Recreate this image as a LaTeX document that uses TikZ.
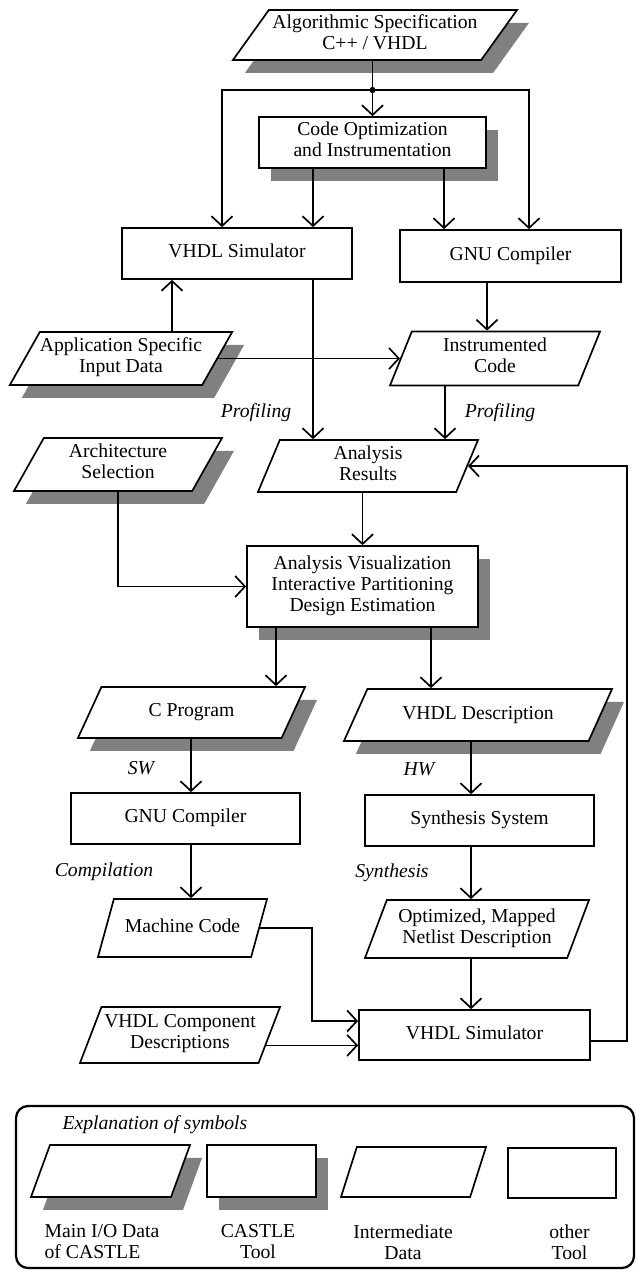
\documentclass[tikz,border=0pt]{standalone}
\usepackage{fontspec}
\setmainfont{Liberation Serif}
\usetikzlibrary{positioning,arrows.meta,calc,shapes.geometric,shadows}

\begin{document}
\begin{tikzpicture}[x=0.025cm,y=-0.025cm,line width=1.2pt,
 >={Straight Barb[length=7pt,width=15pt]},
 blk/.style={draw,fill=white,align=center,inner sep=0pt,font=\fontsize{14}{15}\selectfont,
   execute at begin node=\strut,execute at end node=\strut},
 shade/.style={drop shadow={shadow xshift=.3cm,shadow yshift=-.32cm,fill=black!50,opacity=1}},
 tool/.style={blk,rectangle,shade},
 other/.style={blk,rectangle},
 io/.style={blk,trapezium,trapezium left angle=54,trapezium right angle=126,trapezium stretches body,shade},
 ioone/.style={trapezium left angle=42,trapezium right angle=138},
 mid/.style={blk,trapezium,trapezium left angle=62,trapezium right angle=118,trapezium stretches body},
 midone/.style={trapezium left angle=53,trapezium right angle=127},
 lab/.style={font=\fontsize{14}{15}\selectfont\itshape},
 keytxt/.style={align=center,font=\fontsize{14}{15}\selectfont}]
\useasboundingbox (0,0) rectangle (637,1276);

% tools and data
\node[io,trapezium left angle=49,trapezium right angle=131,minimum width=7.1cm,minimum height=1.25cm] (spec) at (375,35) {Algorithmic Specification\\C++ / VHDL};
\node[tool,minimum width=5.675cm,minimum height=1.275cm] (opt) at (372.5,142.5) {Code Optimization\\and Instrumentation};
\node[other,minimum width=5.75cm,minimum height=1.275cm] (vsim) at (237,253.5) {VHDL Simulator};
\node[other,minimum width=5.525cm,minimum height=1.3cm] (gcc) at (510.5,256) {GNU Compiler};
\node[io,minimum width=5.2cm,minimum height=1.325cm] (app) at (121,358.5) {Application Specific\\Input Data};
\node[mid,minimum width=5.25cm,minimum height=1.35cm] (instr) at (495,358.5) {Instrumented\\Code};
\node[io,minimum width=5.2cm,minimum height=1.325cm] (arch) at (118,464.5) {Architecture\\Selection};
\node[mid,minimum width=5.5cm,minimum height=1.3cm] (res) at (368,466) {Analysis\\Results};
\node[tool,minimum width=5.775cm,minimum height=2.025cm] (av) at (362.5,586.5) {Analysis Visualization\\Interactive Partitioning\\Design Estimation};
\node[io,ioone,minimum width=5.675cm,minimum height=1.275cm] (cprog) at (191.5,712.5) {C Program};
\node[io,ioone,minimum width=6.7cm,minimum height=1.3cm] (vdesc) at (478,715) {VHDL Description};
\node[other,minimum width=5.725cm,minimum height=1.275cm] (gcc2) at (185.5,818.5) {GNU Compiler};
\node[other,minimum width=5.725cm,minimum height=1.275cm] (synth) at (479.5,820.5) {Synthesis System};
\node[mid,midone,minimum width=4.225cm,minimum height=1.45cm] (mcode) at (182.5,928) {Machine Code};
\node[mid,minimum width=5.6cm,minimum height=1.45cm] (net) at (477,929) {Optimized, Mapped\\Netlist Description};
\node[other,minimum width=5.775cm,minimum height=1.25cm] (vsim2) at (474.5,1035) {VHDL Simulator};
\node[mid,minimum width=5cm,minimum height=1.4cm] (comp) at (180,1035) {VHDL Component\\Descriptions};

% branch from the specification
\coordinate (split) at (opt.north |- 0,90);
\draw[->] (spec.south -| opt.north) -- (opt.north);
\fill (split) circle (2.2pt);
\draw[->] (split) -| ($(vsim.north)+(-15,0)$);
\draw[->] (split) -| ($(gcc.north)+(18.5,0)$);
\draw[->] ($(opt.south)+(-59.5,0)$) -- ($(vsim.north)+(76,0)$);
\draw[->] ($(opt.south)+(71.5,0)$) -- ($(gcc.north)+(-66.5,0)$);

% profiling
\coordinate (p1) at ($(vsim.south)+(76,0)$);
\draw[->] (p1) -- (p1 |- res.north);
\coordinate (p2) at ($(vsim.south)+(-65,0)$);
\draw[->] (p2 |- app.north) -- (p2);
\draw[->] (app.east) -- (app.east -| instr.west);
\coordinate (p3) at ($(gcc.south)+(-23.5,0)$);
\draw[->] (p3) -- (p3 |- instr.north);
\coordinate (p4) at ($(instr.center)+(-50,0)$);
\draw[->] (p4 |- instr.south) -- (p4 |- res.north);
\node[lab] (prof1) at (256,413) {Profiling};
\node[lab] (prof2) at (500,413) {Profiling};

% partitioning
\draw[->] (res.south -| av.north) -- (av.north);
\draw[->] (arch.south) |- (av.west);
\coordinate (p5) at ($(av.south)+(-86.5,0)$);
\draw[->] (p5) -- (p5 |- cprog.north);
\coordinate (p6) at ($(av.south)+(68.5,0)$);
\draw[->] (p6) -- (p6 |- vdesc.north);

% SW and HW paths
\coordinate (p7) at ($(gcc2.south)+(5.5,0)$);
\draw[->] (p7 |- cprog.south) -- (p7 |- gcc2.north);
\draw[->] (p7) -- (p7 |- mcode.north);
\coordinate (p8) at ($(synth.south)+(-8.5,0)$);
\draw[->] (p8 |- vdesc.south) -- (p8 |- synth.north);
\draw[->] (p8) -- (p8 |- net.north);
\draw[->] (p8 |- net.south) -- (p8 |- vsim2.north);
\node[lab] (sw) at (141,768) {SW};
\node[lab] (hw) at (419,769) {HW};
\node[lab] (compil) at (104,872) {Compilation};
\node[lab] (synthl) at (392,873) {Synthesis};

% cosimulation and feedback
\coordinate (m1) at ($(vsim2.west)+(0,-14)$);
\draw[->] (mcode.east) -| ($(m1)+(-46,0)$) -- (m1);
\coordinate (c1) at ($(comp.top right corner)!.68!(comp.bottom right corner)$);
\draw[->] (c1) -- (c1 -| vsim2.west);
\coordinate (fb) at ($(vsim2.east)+(36,6)$);
\draw[->] (vsim2.east |- fb) -- (fb) |- (res.east);

% legend
\draw[line width=1.6pt,rounded corners=0.3cm] (16,1106) rectangle (634,1268);
\node[lab,anchor=west] (keyhead) at (57,1125) {Explanation of symbols};
\node[io,ioone,trapezium left angle=48,trapezium right angle=132,minimum width=3.975cm,minimum height=1.3cm] (key1) at (110.5,1171) {};
\node[tool,minimum width=2.725cm,minimum height=1.3cm] (key2) at (261.5,1171) {};
\node[mid,midone,minimum width=3.625cm,minimum height=1.25cm] (key3) at (413.5,1172) {};
\node[other,minimum width=2.7cm,minimum height=1.25cm] (key4) at (562,1173) {};
\node[keytxt,align=left] (keyt1) at (102,1242) {Main I/O Data\\ of CASTLE};
\node[keytxt] (keyt2) at (258,1242) {CASTLE\\Tool};
\node[keytxt] (keyt3) at (403,1242) {Intermediate\\Data};
\node[keytxt] (keyt4) at (569.5,1242) {other\\Tool};
\end{tikzpicture}
\end{document}
